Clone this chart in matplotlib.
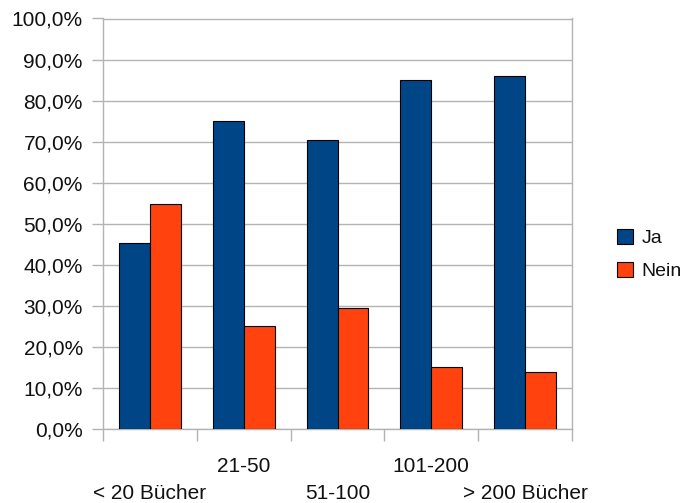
import matplotlib
matplotlib.use("Agg")
import matplotlib.pyplot as plt
import numpy as np

categories = ["< 20 Bücher", "21-50", "51-100", "101-200", "> 200 Bücher"]
ja = [45.3, 75.0, 70.5, 85.0, 86.0]
nein = [54.7, 25.0, 29.5, 15.0, 14.0]
series_names = ["Ja", "Nein"]
yticks = list(range(0, 101, 10))

plt.rcParams['font.family'] = ['Liberation Sans', 'DejaVu Sans']
W, H = 683, 503
fig = plt.figure(figsize=(W / 100, H / 100), dpi=100)
ax = fig.add_axes([103 / W, 1 - 429 / H, (572 - 103) / W, (429 - 18.5) / H])

x = np.arange(len(categories))
bw = 0.33
c_ja = '#004586'
c_nein = '#ff420e'
ax.bar(x - bw / 2, ja, bw, color=c_ja, edgecolor='black', linewidth=0.8, label=series_names[0], zorder=3)
ax.bar(x + bw / 2, nein, bw, color=c_nein, edgecolor='black', linewidth=0.8, label=series_names[1], zorder=3)

ax.set_xlim(-0.5, len(categories) - 0.5)
ax.set_ylim(0, 100)
ax.set_yticks(yticks)
ax.set_yticklabels([f"{v:.1f}%".replace('.', ',') for v in yticks], fontsize=15, color='#111111')
ax.yaxis.grid(True, color='#b3b3b3', linewidth=1.0, zorder=0)
ax.set_axisbelow(True)

ax.set_xticks(np.arange(-0.5, len(categories), 1.0))
ax.set_xticklabels([])
ax.tick_params(axis='x', length=8.6, width=1.0, color='#b3b3b3', direction='out')
ax.tick_params(axis='y', length=8, width=1.0, color='#b3b3b3', direction='out', pad=6.5)
for s in ax.spines.values():
    s.set_color('#b3b3b3')
    s.set_linewidth(1.0)

trans = ax.get_xaxis_transform()
for i, c in enumerate(categories):
    yy = -0.1705 if i % 2 == 0 else -0.1047
    ax.text(i, yy, c, transform=trans, ha='center', va='baseline', fontsize=15, color='#111111')

leg = fig.legend(loc='center left', bbox_to_anchor=(617 / W, 1 - 254.5 / H),
                 bbox_transform=fig.transFigure, frameon=False,
                 fontsize=14, handlelength=0.8, handleheight=0.8, handletextpad=0.45,
                 labelspacing=0.75, borderpad=0, borderaxespad=0)
for t in leg.get_texts():
    t.set_color('#111111')

fig.savefig('out.png', dpi=100)
